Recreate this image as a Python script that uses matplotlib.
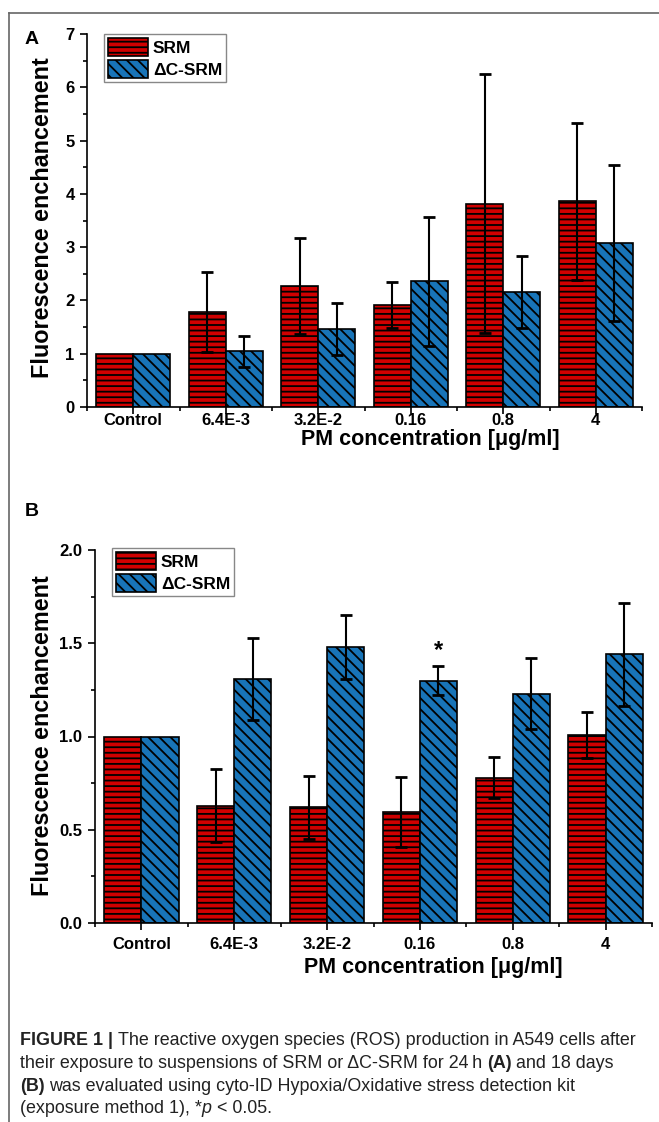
import numpy as np
import matplotlib
matplotlib.use("Agg")
import matplotlib.pyplot as plt
from matplotlib import font_manager
from matplotlib.lines import Line2D
from matplotlib.ticker import MultipleLocator, FormatStrFormatter

# data
categories = ["Control", "6.4E-3", "3.2E-2", "0.16", "0.8", "4"]
series = ["SRM", "\u0394C-SRM"]

srm_a = [1.0, 1.78, 2.27, 1.91, 3.81, 3.86]
srm_a_err = [0, 0.75, 0.90, 0.43, 2.43, 1.47]
dc_a = [1.0, 1.05, 1.46, 2.36, 2.16, 3.08]
dc_a_err = [0, 0.29, 0.49, 1.21, 0.67, 1.46]

srm_b = [1.0, 0.63, 0.62, 0.595, 0.78, 1.01]
srm_b_err = [0, 0.195, 0.167, 0.19, 0.11, 0.123]
dc_b = [1.0, 1.31, 1.48, 1.30, 1.23, 1.44]
dc_b_err = [0, 0.22, 0.17, 0.08, 0.19, 0.275]

star_idx = 3  # * over dC-SRM at 0.16 in panel B

W, H = 659, 1122
plt.rcParams['font.family'] = ['Liberation Sans', 'DejaVu Sans']
plt.rcParams['font.weight'] = 'bold'
plt.rcParams['axes.labelweight'] = 'bold'
plt.rcParams['hatch.linewidth'] = 1.3

names = set(f.name for f in font_manager.fontManager.ttflist)
cap_font = 'Liberation Sans Narrow' if 'Liberation Sans Narrow' in names else 'Liberation Sans'

red = '#d00000'
blue = '#1874b8'

fig = plt.figure(figsize=(W / 100, H / 100), dpi=100)


def px_axes(left, top, right, bottom):
    return fig.add_axes([left / W, 1 - bottom / H, (right - left) / W, (bottom - top) / H])


def draw_panel(ax, srm, srm_err, dc, dc_err, ymax, major, minor, fmt, xpad):
    x = np.arange(len(categories))
    w = 0.4
    ekw = dict(ecolor='black', elinewidth=1.5, capsize=4, capthick=2)
    ax.bar(x - w / 2, srm, w, color=red, edgecolor='black', linewidth=1.2,
           hatch='---', label=series[0])
    ax.bar(x + w / 2, dc, w, color=blue, edgecolor='black', linewidth=1.2,
           hatch='\\\\\\', label=series[1])
    ax.errorbar(x[1:] - w / 2, srm[1:], yerr=srm_err[1:], fmt='none', **ekw)
    ax.errorbar(x[1:] + w / 2, dc[1:], yerr=dc_err[1:], fmt='none', **ekw)
    ax.set_xlim(-0.5, len(categories) - 0.5)
    ax.set_ylim(0, ymax)
    ax.set_xticks(x)
    ax.set_xticklabels(categories, fontsize=12, fontweight='bold')
    ax.set_xticks(np.arange(-0.5, len(categories)), minor=True)
    ax.yaxis.set_major_locator(MultipleLocator(major))
    ax.yaxis.set_minor_locator(MultipleLocator(minor))
    ax.yaxis.set_major_formatter(FormatStrFormatter(fmt))
    ax.tick_params(axis='y', which='major', length=5, width=1.2, pad=4, labelsize=12)
    ax.tick_params(axis='x', which='major', length=5, width=1.2, pad=xpad, labelsize=12)
    ax.tick_params(which='minor', length=3, width=1.2)
    for s in ['top', 'right']:
        ax.spines[s].set_visible(False)
    for s in ['left', 'bottom']:
        ax.spines[s].set_linewidth(1.2)
    return x, w


def add_legend(ax, left, top):
    leg = ax.legend(loc='upper left', bbox_to_anchor=(left / W, 1 - top / H),
                    bbox_transform=fig.transFigure, fancybox=False, edgecolor='#888888',
                    framealpha=1, fontsize=12.5, handlelength=2.3, handleheight=1.25,
                    labelspacing=0.22, borderpad=0.22, handletextpad=0.3, borderaxespad=0)
    leg.get_frame().set_linewidth(1.0)


# panel A
axA = px_axes(87, 34, 642, 407)
draw_panel(axA, srm_a, srm_a_err, dc_a, dc_a_err, 7, 1, 0.5, '%d', -1)
add_legend(axA, 104, 34)

# panel B
axB = px_axes(95, 550, 652, 923)
xB, wB = draw_panel(axB, srm_b, srm_b_err, dc_b, dc_b_err, 2.0, 0.5, 0.25, '%.1f', 5)
add_legend(axB, 112, 548)
axB.text(xB[star_idx] + wB / 2, dc_b[star_idx] + dc_b_err[star_idx] + 0.02, '*',
         ha='center', va='bottom', fontsize=17, fontweight='bold')

# axis labels and panel letters
for yc in [218, 736]:
    fig.text(43 / W, 1 - yc / H, 'Fluorescence enchancement', rotation=90,
             ha='center', va='center', fontsize=16.8, fontweight='bold')
fig.text(430 / W, 1 - 439 / H, 'PM concentration [\u03bcg/ml]', ha='center',
         va='center', fontsize=15.5, fontweight='bold')
fig.text(433 / W, 1 - 968 / H, 'PM concentration [\u03bcg/ml]', ha='center',
         va='center', fontsize=15.5, fontweight='bold')
fig.text(32 / W, 1 - 40 / H, 'A', ha='center', va='center', fontsize=14, fontweight='bold')
fig.text(32 / W, 1 - 511 / H, 'B', ha='center', va='center', fontsize=14, fontweight='bold')

# frame around the figure
fig.add_artist(Line2D([9 / W, 1], [1 - 12.5 / H, 1 - 12.5 / H], color='#666666', lw=1.2))
fig.add_artist(Line2D([9 / W, 9 / W], [1 - 12.5 / H, 0], color='#666666', lw=1.2))

# caption: (text, weight, style, gap before in spaces)
caption = [
    [("FIGURE 1 |", 'bold', 'normal', 0),
     ("The reactive oxygen species (ROS) production in A549 cells after", 'normal', 'normal', 1)],
    [("their exposure to suspensions of SRM or \u0394C-SRM for 24\u2009h", 'normal', 'normal', 0),
     ("(A)", 'bold', 'normal', 1), ("and 18 days", 'normal', 'normal', 1)],
    [("(B)", 'bold', 'normal', 0),
     ("was evaluated using cyto-ID Hypoxia/Oxidative stress detection kit", 'normal', 'normal', 1)],
    [("(exposure method 1), *", 'normal', 'normal', 0), ("p", 'normal', 'italic', 0),
     ("< 0.05.", 'normal', 'normal', 1)],
]
line_y = [1045, 1068, 1091, 1113]  # baselines in px


def draw_caption(size):
    out = []
    space = size * 100 / 72 * 0.26
    for parts, yl in zip(caption, line_y):
        first = True
        for txt, wt, st, gap in parts:
            kw = dict(fontsize=size, fontweight=wt, fontstyle=st, color='#222222',
                      family=[cap_font, 'DejaVu Sans'], va='baseline', ha='left')
            if first:
                t = fig.text(20 / W, 1 - yl / H, txt, **kw)
                out.append((t, None))
                first = False
            else:
                t = fig.text(0, 0, txt, **kw)
                out.append((t, gap * space))
    return out


def place(items):
    # put each segment right after the one before it on the same line
    r = fig.canvas.get_renderer()
    prev = None
    for t, g in items:
        if g is not None:
            bb = prev.get_window_extent(r)
            t.set_position(((bb.x1 + g) / W, prev.get_position()[1]))
        prev = t


cap_size = 11.0
items = draw_caption(cap_size)
fig.canvas.draw()
place(items)
fig.canvas.draw()
# scale so the first line ends where it does in the reference (~634 px)
r = fig.canvas.get_renderer()
first_line_end = items[1][0].get_window_extent(r).x1
scale = (634 - 20) / (first_line_end - 20)
for t, g in items:
    t.remove()
items = draw_caption(cap_size * scale)
fig.canvas.draw()
place(items)

fig.savefig('out.png', dpi=100)
